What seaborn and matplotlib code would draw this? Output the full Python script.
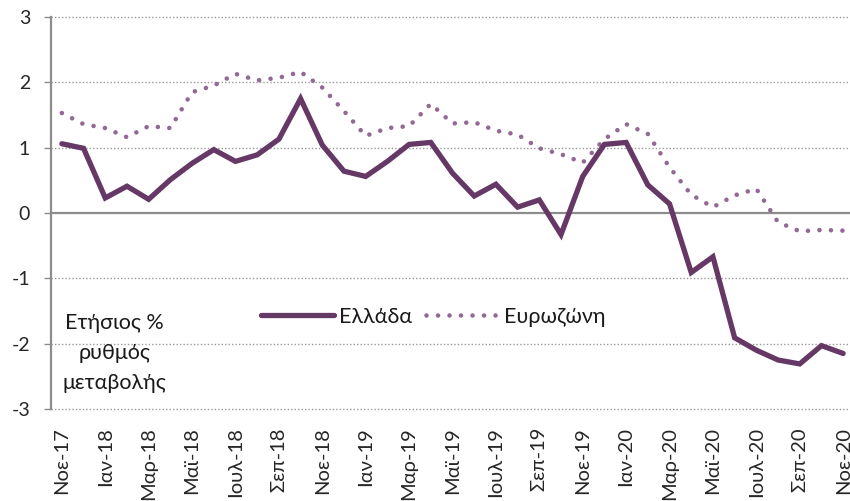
import matplotlib
matplotlib.use("Agg")
import matplotlib.pyplot as plt
import seaborn as sns
import pandas as pd
import numpy as np

months = ["Νοε-17", "Δεκ-17", "Ιαν-18", "Φεβ-18", "Μαρ-18", "Απρ-18", "Μαϊ-18", "Ιουν-18",
          "Ιουλ-18", "Αυγ-18", "Σεπ-18", "Οκτ-18", "Νοε-18", "Δεκ-18", "Ιαν-19", "Φεβ-19",
          "Μαρ-19", "Απρ-19", "Μαϊ-19", "Ιουν-19", "Ιουλ-19", "Αυγ-19", "Σεπ-19", "Οκτ-19",
          "Νοε-19", "Δεκ-19", "Ιαν-20", "Φεβ-20", "Μαρ-20", "Απρ-20", "Μαϊ-20", "Ιουν-20",
          "Ιουλ-20", "Αυγ-20", "Σεπ-20", "Οκτ-20", "Νοε-20"]

greece = [1.06, 0.99, 0.23, 0.41, 0.21, 0.51, 0.76, 0.97, 0.79, 0.89, 1.13, 1.75, 1.04,
          0.64, 0.56, 0.79, 1.05, 1.08, 0.61, 0.26, 0.44, 0.09, 0.20, -0.33, 0.56, 1.05,
          1.08, 0.43, 0.14, -0.91, -0.67, -1.91, -2.10, -2.25, -2.31, -2.03, -2.15]

eurozone = [1.53, 1.36, 1.30, 1.16, 1.33, 1.30, 1.85, 1.95, 2.13, 2.03, 2.07, 2.16, 1.92,
            1.56, 1.18, 1.30, 1.33, 1.67, 1.37, 1.39, 1.26, 1.20, 0.99, 0.90, 0.77, 1.13,
            1.36, 1.21, 0.70, 0.28, 0.09, 0.27, 0.37, -0.14, -0.28, -0.26, -0.27]

series_names = ["Ελλάδα", "Ευρωζώνη"]
y_ticks = [-3, -2, -1, 0, 1, 2, 3]

sns.set_theme(style="white")
plt.rcParams["font.family"] = ["Lato", "DejaVu Sans"]

df = pd.DataFrame({"idx": np.arange(len(months)), "gr": greece, "ez": eurozone})

fig = plt.figure(figsize=(8.5, 5.01), dpi=100)
ax = fig.add_axes([51 / 850, 92 / 501, 803 / 850, 392 / 501])

grid_color = "#9a9a9a"
for v in y_ticks:
    if v == 0:
        continue
    ax.axhline(v, color=grid_color, lw=1.0, ls=(0, (1, 1.5)), zorder=0, clip_on=False)
ax.axhline(0, color="#8c8c8c", lw=1.6, zorder=1)

sns.lineplot(data=df, x="idx", y="gr", ax=ax, color="#653866", lw=3.8,
             label=series_names[0], solid_capstyle="round", solid_joinstyle="miter", zorder=3)
sns.lineplot(data=df, x="idx", y="ez", ax=ax, color="#946894", lw=3.3,
             label=series_names[1], zorder=2)
ax.lines[-1].set_linestyle((0, (0.01, 2.5)))
ax.lines[-1].set_dash_capstyle("round")

ax.set_xlim(-0.5, len(months) - 0.5)
ax.set_ylim(-3, 3)
ax.set_yticks(y_ticks)
ax.set_yticklabels([str(v) for v in y_ticks], fontsize=14)
ax.set_xticks(np.arange(0, len(months), 2))
ax.set_xticklabels(months[::2], rotation=90, fontsize=14.5, va="top")
ax.tick_params(axis="y", left=True, length=5, width=1, color="#8c8c8c", pad=10)
ax.tick_params(axis="x", bottom=False, length=0, pad=13)
ax.set_xlabel("")
ax.set_ylabel("")

for s in ["top", "right", "bottom"]:
    ax.spines[s].set_visible(False)
ax.spines["left"].set_color("#8c8c8c")
ax.spines["left"].set_linewidth(1.6)

leg = ax.legend(loc="center", bbox_to_anchor=(0.476, 0.235), ncol=2, frameon=False,
                fontsize=15.5, handlelength=3.35, handletextpad=0.25, columnspacing=0.65)
for t in leg.get_texts():
    t.set_color("#1a1a1a")

ax.text(2.44, -2.14, "Ετήσιος %\nρυθμός\nμεταβολής", ha="center", va="center",
        fontsize=15.5, linespacing=1.64, color="#1a1a1a")

fig.savefig("out.png", dpi=100)
